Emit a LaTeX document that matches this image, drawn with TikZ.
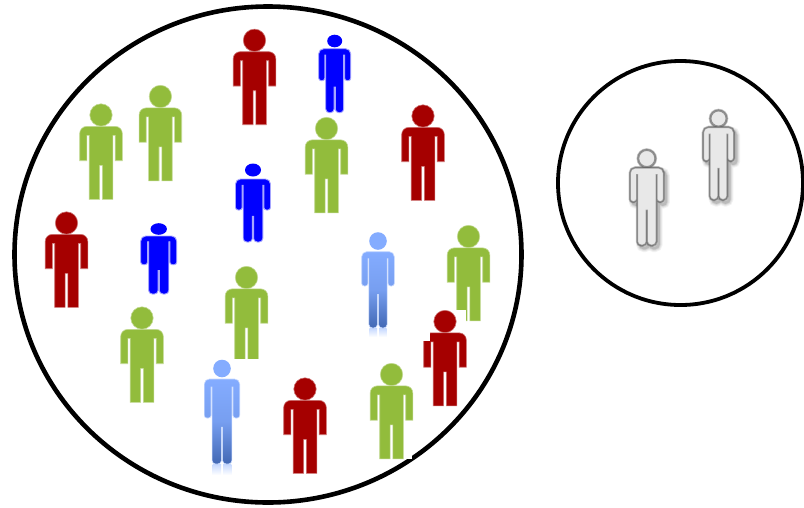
\documentclass[tikz,border=0pt]{standalone}
\usepackage{tikz}
\definecolor{pred}{HTML}{A50000}
\definecolor{pgreen}{HTML}{92BC3C}
\definecolor{pblue}{HTML}{0000FF}
\definecolor{ltop}{HTML}{84ACFF}
\definecolor{lbot}{HTML}{4268B4}
\tikzset{
  ring/.style={draw=black,line width=4.6pt,fill=none},
  halo/.style={draw=#1!55!white,line width=.6pt,fill=#1},
}
% flat figure: x, y of head centre, colour
\newcommand\flatfig[3]{%
  \begin{scope}[shift={(#1,#2)}]
    \path[halo=#3] (0,0) circle[radius=11.2];
    \path[halo=#3] (-21.3,45.7) [rounded corners=7pt] -- (-21.3,11.4) -- (21.3,11.4)
      [sharp corners] -- (21.3,45.7) -- (14.2,45.7) -- (14.2,20.4) -- (11.8,20.4)
      -- (11.8,84.4) -- (1.4,84.4) -- (1.4,50.4) -- (-1.4,50.4) -- (-1.4,84.4)
      -- (-11.8,84.4) -- (-11.8,20.4) -- (-14.2,20.4) -- (-14.2,45.7) -- cycle;
  \end{scope}}
% rounded figure outline; uses \sy \hw \ab \by \tw \ai \gt \cy
\newcommand\setfig[4]{%
  \pgfmathsetmacro\sy{#1}\pgfmathsetmacro\hw{#2}\pgfmathsetmacro\ab{#3}\pgfmathsetmacro\by{#4}%
  \pgfmathsetmacro\tw{.56*\hw}\pgfmathsetmacro\ai{.62*\hw}%
  \pgfmathsetmacro\gt{\sy+.2*(\ab-\sy)}\pgfmathsetmacro\cy{\ab+.2*(\by-\ab)}}
\newcommand\figpath{%
  (\ai,\gt) -- (\tw,\gt) [rounded corners=3.6pt] -- (\tw,\by) -- (.6,\by)
  [sharp corners] -- (.6,\cy) -- (-.6,\cy) [rounded corners=3.6pt] -- (-.6,\by) -- (-\tw,\by)
  [sharp corners] -- (-\tw,\gt) -- (-\ai,\gt) [rounded corners=2.6pt] -- (-\ai,\ab) -- (-\hw,\ab)
  [rounded corners=5pt] -- (-\hw,\sy) -- (\hw,\sy) [rounded corners=2.6pt] -- (\hw,\ab) -- (\ai,\ab)
  [sharp corners] -- cycle}
% solid blue: x, y, rx, ry, shoulder, half width, arm bottom, feet
\newcommand\bluefig[8]{%
  \begin{scope}[shift={(#1,#2)}]
    \setfig{#5-#2}{#6}{#7-#2}{#8-#2}%
    \fill[pblue] (0,0) ellipse[x radius=#3,y radius=#4];
    \path[draw=pblue!35!white,line width=.9pt,fill=pblue] \figpath;
  \end{scope}}
% graded blue with reflection: x, y, radius, shoulder, half width, arm bottom, feet, reflection height
\newcommand\lightfig[8]{%
  \begin{scope}[shift={(#1,#2)}]
    \setfig{#4-#2}{#5}{#6-#2}{#7-#2}%
    \pgfmathsetmacro\rf{#8}%
    \shade[top color=ltop!45!white,bottom color=white] (-\tw+.5,\by+.5) rectangle (-1,\by+\rf);
    \shade[top color=ltop!45!white,bottom color=white] (1,\by+.5) rectangle (\tw-.5,\by+\rf);
    \fill[ltop] (0,0) circle[radius=#3];
    \path[draw=ltop!45!white,line width=.6pt,top color=ltop,bottom color=lbot,middle color=ltop!80!lbot] \figpath;
  \end{scope}}
% grey embossed: x, y, radius, shoulder, half width, arm bottom, feet
\newcommand\greyfig[7]{%
  \begin{scope}[shift={(#1,#2)}]
    \setfig{#4-#2}{#5}{#6-#2}{#7-#2}%
    \begin{scope}[shift={(2.5,3)}]
      \foreach \wd/\op in {8/.05,6/.06,4/.08,2.5/.1}{
        \path[draw=black,line width=\wd pt,opacity=\op] \figpath;
      }
    \end{scope}
    \foreach \wd/\op in {3.6/.3,2.6/.35,1.6/.45}{
      \path[fill=white,draw=black!65,line width=\wd pt,draw opacity=\op,fill opacity=1] (0,0) circle[radius=#3-1];
      \path[fill=white,draw=black!65,line width=\wd pt,draw opacity=\op,fill opacity=1] \figpath;
    }
    \fill[black!9] (0,0) circle[radius=#3-2];
    \path[fill=black!9,draw=black!55,line width=1pt,draw opacity=.6] \figpath;
    \path[draw=black!55,line width=1pt,draw opacity=.6] (0,0) circle[radius=#3-1.5];
  \end{scope}}
\begin{document}
\begin{tikzpicture}[x=1pt,y=-1pt]
  \useasboundingbox (0,0) rectangle (804,507);
  \fill[white] (0,0) rectangle (804,507);
  \draw[ring] (268,254.5) ellipse[x radius=253.5,y radius=248];
  \draw[ring,line width=3.8pt] (680.5,183) ellipse[x radius=122.5,y radius=122];
  % notch in the big ring left by the picture beside it
  \fill[white] (370,440) rectangle (412,458.9);
  % red
  \flatfig{254.5}{40.3}{pred}
  \flatfig{423}{116}{pred}
  \flatfig{66.5}{223}{pred}
  \flatfig{305}{389}{pred}
  % green
  \flatfig{101}{115}{pgreen}
  \flatfig{160.4}{96.5}{pgreen}
  \flatfig{326.5}{128.5}{pgreen}
  \flatfig{246.5}{277.5}{pgreen}
  \fill[white] (220,358.5) rectangle (270,364);
  \flatfig{142}{318}{pgreen}
  \flatfig{391.5}{374.5}{pgreen}
  \flatfig{468.5}{236.5}{pgreen}
  % cut of the overlapped green leg, then the overlapping red figure
  \fill[white] (450,309.6) rectangle (466,325);
  \flatfig{445}{321.5}{pred}
  \fill[white] (421,331) rectangle (430,341.4);
  % blue
  \bluefig{334.7}{41}{7.5}{6.3}{48.7}{16}{80.7}{112.7}
  \bluefig{253}{170}{8}{6.5}{179}{17.5}{210}{242}
  \bluefig{158.7}{229}{8.2}{5.8}{236}{18}{264.7}{294}
  % light blue
  \lightfig{378}{241}{8.8}{251.7}{16.3}{286}{328}{9}
  \lightfig{222}{368.5}{8.8}{379}{17.7}{418}{464}{11}
  % grey
  \greyfig{646.8}{158.5}{9.5}{168}{16.5}{201.5}{245}
  \greyfig{718.5}{118.5}{9}{127.5}{15}{160.7}{199.5}
\end{tikzpicture}
\end{document}
